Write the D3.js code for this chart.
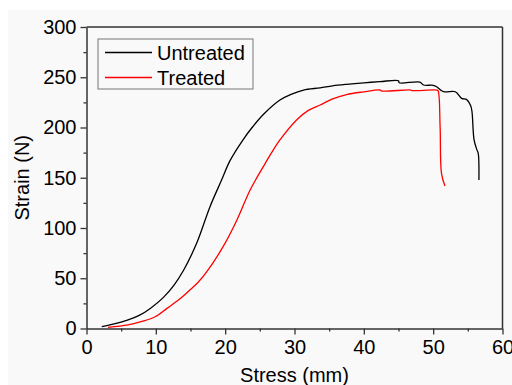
<!DOCTYPE html>
<html>
<head>
<meta charset="utf-8">
<script src="https://cdn.jsdelivr.net/npm/d3@7"></script>
<style>
  html, body { margin: 0; padding: 0; background: #fff; }
  text { font-family: "Liberation Sans", Arial, sans-serif; fill: #000; }
</style>
</head>
<body>
<div id="chart"></div>
<script>
// curves: [stress (mm), strain (N)]
const untreated = [
  [2.2, 1.8], [4, 4.5], [6, 8.5], [7.6, 13], [9.2, 20], [11.1, 31], [12.6, 43],
  [14, 58], [15.9, 85], [17.8, 121], [19.5, 148], [20.7, 167], [22.6, 188],
  [24, 201], [25.5, 213], [27.9, 227.4], [29.5, 233], [31.3, 237.3],
  [33.7, 239.5], [35.5, 241.5], [37.5, 243], [40, 244.5], [42.3, 245.6],
  [45, 246.6], [45.1, 244.6], [48.1, 245.2], [48.6, 242.3],
  [50, 242], [50.5, 240.6], [51.5, 235.6], [53.2, 235.6], [54.1, 229], [54.8, 228],
  [55.4, 222], [55.6, 215.7], [55.9, 187.6], [56.3, 178], [56.5, 174.3], [56.6, 147.8]
]
const treated = [
  [3.1, 1.2], [6, 3.5], [8, 7], [9.9, 11.7], [11.6, 20], [13.3, 28.5], [14.9, 38.3],
  [16.1, 46], [17.3, 56], [19.7, 81.4], [21.7, 108], [23.6, 137.8],
  [25.5, 161], [26.7, 175], [27.9, 187.6], [30.3, 207.5], [32, 217],
  [33.7, 222.4], [35.5, 228.5], [37.5, 232.8], [40, 235.5], [42.3, 237.3], [42.6, 236.3],
  [46.8, 237.3], [46.9, 236.8], [50.5, 237.3], [50.7, 236.6], [51, 201],
  [51.2, 154.4], [51.7, 141.8]
]
const seriesNames = ['Untreated', 'Treated']
const seriesColors = ['#000000', '#ff0000']
const xTicks = [0, 10, 20, 30, 40, 50, 60]
const yTicks = [0, 50, 100, 150, 200, 250, 300]

const W = 512, H = 385
const margin = {left: 86.5, top: 27, right: 9.5, bottom: 56.5}
const iw = W - margin.left - margin.right
const ih = H - margin.top - margin.bottom

const svg = d3.select('#chart').append('svg')
  .attr('width', W)
  .attr('height', H)

svg.append('rect')
  .attr('x', 8).attr('y', 10)
  .attr('width', W - 8).attr('height', H - 10)
  .attr('fill', '#f9f9f9')

const x = d3.scaleLinear().domain([0, 60]).range([0, iw])
const y = d3.scaleLinear().domain([0, 300]).range([ih, 0])

const g = svg.append('g')
  .attr('transform', `translate(${margin.left},${margin.top})`)

// minor ticks
g.append('g')
  .attr('transform', `translate(0,${ih})`)
  .call(d3.axisBottom(x).tickValues(d3.range(5, 60, 10)).tickSize(3).tickFormat(''))
  .call(a => a.select('.domain').remove())
g.append('g')
  .call(d3.axisLeft(y).tickValues(d3.range(25, 300, 50)).tickSize(3).tickFormat(''))
  .call(a => a.select('.domain').remove())

g.append('g')
  .attr('transform', `translate(0,${ih})`)
  .call(d3.axisBottom(x).tickValues(xTicks).tickSize(6).tickSizeOuter(0).tickPadding(5))
g.append('g')
  .call(d3.axisLeft(y).tickValues(yTicks).tickSize(6).tickSizeOuter(0).tickPadding(4))

g.selectAll('.tick line').attr('stroke', '#333').attr('stroke-width', 1.3)
g.selectAll('.domain').attr('stroke', '#333').attr('stroke-width', 1.5)
g.selectAll('.tick text')
  .style('font-family', '"Liberation Sans", Arial, sans-serif')
  .style('font-size', '20px')
  .attr('fill', '#000')

// top and right frame
g.append('line').attr('x1', 0).attr('x2', iw).attr('y1', 0).attr('y2', 0)
  .attr('stroke', '#333').attr('stroke-width', 1.5)
g.append('line').attr('x1', iw).attr('x2', iw).attr('y1', 0).attr('y2', ih)
  .attr('stroke', '#333').attr('stroke-width', 1.5)

const line = d3.line()
  .x(d => x(d[0]))
  .y(d => y(d[1]))
  .curve(d3.curveCatmullRom.alpha(0.5))
g.selectAll('path.curve')
  .data([untreated, treated])
  .join('path')
  .attr('class', 'curve')
  .attr('d', line)
  .attr('fill', 'none')
  .attr('stroke', (d, i) => seriesColors[i])
  .attr('stroke-width', 1.3)
  .attr('stroke-linejoin', 'round')

// legend
const lg = svg.append('g').attr('transform', 'translate(98,39)')
lg.append('rect')
  .attr('width', 155).attr('height', 50)
  .attr('fill', 'none').attr('stroke', '#777').attr('stroke-width', 1)
seriesNames.forEach((name, i) => {
  lg.append('line')
    .attr('x1', 7).attr('x2', 54)
    .attr('y1', 13.5 + i * 25).attr('y2', 13.5 + i * 25)
    .attr('stroke', seriesColors[i]).attr('stroke-width', 1.3)
  lg.append('text')
    .attr('x', 59).attr('y', 20.5 + i * 25)
    .style('font-size', '20px')
    .text(name)
})

// axis titles
svg.append('text')
  .attr('x', margin.left + iw / 2).attr('y', 382)
  .attr('text-anchor', 'middle')
  .style('font-size', '20px')
  .text('Stress (mm)')
svg.append('text')
  .attr('transform', `translate(29,${margin.top + ih / 2}) rotate(-90)`)
  .attr('text-anchor', 'middle')
  .style('font-size', '20px')
  .text('Strain (N)')
</script>
</body>
</html>
